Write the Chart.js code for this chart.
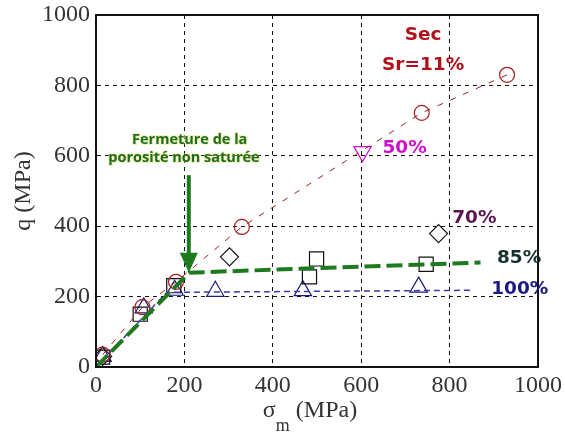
<!DOCTYPE html>
<html>
<head>
<meta charset="utf-8">
<script src="https://cdn.jsdelivr.net/npm/chart.js@4/dist/chart.umd.min.js"></script>
<style>
  html, body { margin: 0; padding: 0; background: #fff; }
  #wrap { width: 565px; height: 433px; }
</style>
</head>
<body>
<div id="wrap"><canvas id="chart" width="565" height="433"></canvas></div>
<script>
// values (sigma_m, q) in MPa
var secPts = [[15, 35], [105, 170], [181, 242], [330, 398], [737, 722], [930, 830]];
var sr50Pts = [[603, 612]];
var sr70Pts = [[15, 30], [302, 313], [775, 379]];
var sr85Pts = [[15, 28], [100, 150], [176, 231], [483, 256], [499, 307], [747, 292]];
var sr100Pts = [[15, 30], [108, 168], [178, 218], [270, 215], [468, 217], [730, 227]];
var greenLine = [[0, 0], [211, 268], [870, 297]];
var blueLine = [[0, 0], [160, 212], [850, 218]];
var xTicks = [0, 200, 400, 600, 800, 1000];
var yTicks = [0, 200, 400, 600, 800, 1000];

// label texts and where they sit (data coords)
var labels = [
    {text: "Sec", x: 740, y: 943, color: "#b0101a", align: "center"},
    {text: "Sr=11%", x: 740, y: 858, color: "#b0101a", align: "center"},
    {text: "50%", x: 648, y: 622, color: "#cc10cc", align: "left"},
    {text: "70%", x: 806, y: 423, color: "#5a1650", align: "left"},
    {text: "85%", x: 907, y: 310, color: "#14302c", align: "left"},
    {text: "100%", x: 894, y: 222, color: "#1a1a80", align: "left"}
];
var noteLines = ["Fermeture de la", "porosité non saturée"];
var arrowFrom = [210, 545];
var arrowTo = [210, 268];

function toXY(arr) {
    return arr.map(function (p) { return {x: p[0], y: p[1]}; });
}

var annotate = {
    id: "annotate",
    afterDraw: function (chart) {
        var ctx = chart.ctx;
        var xs = chart.scales.x, ys = chart.scales.y;
        var a = chart.chartArea;
        ctx.save();

        // frame
        ctx.strokeStyle = "#111";
        ctx.lineWidth = 2;
        ctx.setLineDash([]);
        ctx.strokeRect(a.left, a.top, a.right - a.left, a.bottom - a.top);

        // arrow
        var ax = xs.getPixelForValue(arrowFrom[0]);
        var ay0 = ys.getPixelForValue(arrowFrom[1]);
        var ay1 = ys.getPixelForValue(arrowTo[1]);
        ctx.strokeStyle = "#1e7a1e";
        ctx.fillStyle = "#1e7a1e";
        ctx.lineWidth = 4;
        ctx.beginPath();
        ctx.moveTo(ax, ay0);
        ctx.lineTo(ax, ay1 - 18);
        ctx.stroke();
        ctx.beginPath();
        ctx.moveTo(ax - 9, ay1 - 20);
        ctx.lineTo(ax + 9, ay1 - 20);
        ctx.lineTo(ax, ay1);
        ctx.closePath();
        ctx.fill();

        // note text
        ctx.font = "bold 14.5px 'Open Sans'";
        ctx.textAlign = "center";
        ctx.textBaseline = "middle";
        ctx.lineWidth = 2;
        ctx.strokeStyle = "rgba(230, 225, 120, 0.5)";
        ctx.fillStyle = "#1e6e1e";
        var n1 = [xs.getPixelForValue(212), ys.getPixelForValue(645)];
        var n2 = [xs.getPixelForValue(199), ys.getPixelForValue(594)];
        ctx.strokeText(noteLines[0], n1[0], n1[1]);
        ctx.fillText(noteLines[0], n1[0], n1[1]);
        ctx.strokeText(noteLines[1], n2[0], n2[1]);
        ctx.fillText(noteLines[1], n2[0], n2[1]);

        // series labels
        ctx.font = "bold 18.5px 'DejaVu Sans'";
        labels.forEach(function (l) {
            ctx.fillStyle = l.color;
            ctx.textAlign = l.align;
            ctx.fillText(l.text, xs.getPixelForValue(l.x), ys.getPixelForValue(l.y));
        });

        // x title with subscript
        ctx.fillStyle = "#333";
        ctx.textAlign = "left";
        ctx.textBaseline = "alphabetic";
        var cx = (a.left + a.right) / 2 - 7;
        ctx.font = "24px 'Liberation Serif'";
        var w1 = ctx.measureText("σ").width;
        ctx.font = "18px 'Liberation Serif'";
        var w2 = ctx.measureText("m").width;
        ctx.font = "24px 'Liberation Serif'";
        var w3 = ctx.measureText(" (MPa)").width;
        var sx = cx - (w1 + w2 + w3) / 2;
        ctx.fillText("σ", sx, 417);
        ctx.font = "18px 'Liberation Serif'";
        ctx.fillText("m", sx + w1, 431);
        ctx.font = "24px 'Liberation Serif'";
        ctx.fillText(" (MPa)", sx + w1 + w2, 417);

        ctx.restore();
    }
};

var ctx = document.getElementById("chart").getContext("2d");

var chart = new Chart(ctx, {
    type: "scatter",
    data: {
        datasets: [
            {
                data: toXY(greenLine),
                showLine: true,
                borderColor: "#1e7a1e",
                borderWidth: 4,
                borderDash: [16, 6],
                pointRadius: 0
            },
            {
                data: toXY(blueLine),
                showLine: true,
                borderColor: "#3a3aa8",
                borderWidth: 1.5,
                borderDash: [6, 4],
                pointRadius: 0
            },
            {
                data: toXY(secPts),
                showLine: true,
                borderColor: "#9a2020",
                borderWidth: 1,
                borderDash: [6, 8],
                pointStyle: "circle",
                pointRadius: 7.5,
                pointBorderWidth: 1.2,
                pointBorderColor: "#a52020",
                pointBackgroundColor: "transparent"
            },
            {
                data: toXY(sr50Pts),
                pointStyle: "triangle",
                rotation: 180,
                pointRadius: 10,
                pointBorderWidth: 1.2,
                pointBorderColor: "#cc10cc",
                pointBackgroundColor: "transparent"
            },
            {
                data: toXY(sr70Pts),
                pointStyle: "rectRot",
                pointRadius: 9,
                pointBorderWidth: 1.2,
                pointBorderColor: "#111",
                pointBackgroundColor: "transparent"
            },
            {
                data: toXY(sr85Pts),
                pointStyle: "rect",
                pointRadius: 10,
                pointBorderWidth: 1.2,
                pointBorderColor: "#111",
                pointBackgroundColor: "transparent"
            },
            {
                data: toXY(sr100Pts),
                pointStyle: "triangle",
                pointRadius: 10,
                pointBorderWidth: 1.2,
                pointBorderColor: "#1a1a80",
                pointBackgroundColor: "transparent"
            }
        ]
    },
    options: {
        responsive: false,
        animation: false,
        layout: {padding: {left: 9, right: 27, top: 15, bottom: 0}},
        plugins: {
            legend: {display: false},
            tooltip: {enabled: false}
        },
        scales: {
            x: {
                type: "linear",
                min: 0,
                max: 1000,
                afterBuildTicks: function (s) { s.ticks = xTicks.map(function (v) { return {value: v}; }); },
                afterFit: function (s) { s.height = 66; s.paddingLeft = 0; s.paddingRight = 0; },
                grid: {color: "#111", lineWidth: 1, drawTicks: false},
                border: {display: true, color: "#111", width: 2, dash: [4, 4]},
                ticks: {
                    color: "#333", padding: 4, font: {family: "Liberation Serif", size: 24},
                    callback: function (v) { return String(v); }
                }
            },
            y: {
                type: "linear",
                min: 0,
                max: 1000,
                afterBuildTicks: function (s) { s.ticks = yTicks.map(function (v) { return {value: v}; }); },
                afterFit: function (s) { s.width = 87; s.paddingTop = 0; s.paddingBottom = 0; },
                grid: {color: "#111", lineWidth: 1, drawTicks: false},
                border: {display: true, color: "#111", width: 2, dash: [4, 4]},
                title: {display: true, text: "q (MPa)", color: "#333", padding: 0, font: {family: "Liberation Serif", size: 24}},
                ticks: {
                    color: "#333", padding: 6, font: {family: "Liberation Serif", size: 24},
                    callback: function (v) { return String(v); }
                }
            }
        }
    },
    plugins: [annotate]
});
</script>
</body>
</html>
